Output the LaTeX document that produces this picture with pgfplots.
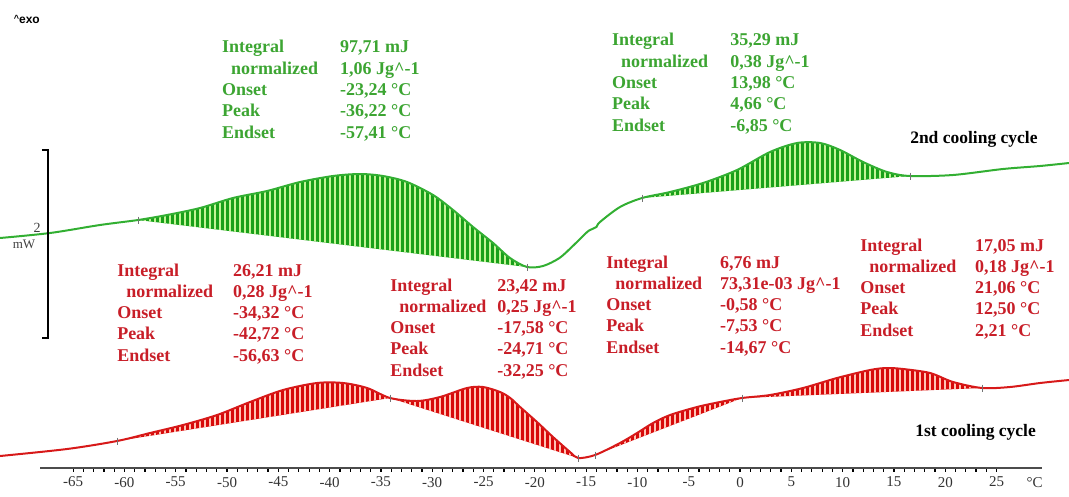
\documentclass[border=0pt]{standalone}
\usepackage{pgfplots}
\pgfplotsset{compat=1.18}
\usepackage{fontspec}
\setmainfont{Liberation Serif}
\newfontfamily\arialfont{Liberation Sans}
\usetikzlibrary{patterns.meta}

\definecolor{gline}{RGB}{50,175,50}
\definecolor{gfill}{RGB}{25,160,25}
\definecolor{gstripe}{RGB}{195,245,150}
\definecolor{gtext}{RGB}{60,165,50}
\definecolor{rline}{RGB}{215,25,25}
\definecolor{rfill}{RGB}{215,10,10}
\definecolor{rstripe}{RGB}{255,195,180}
\definecolor{rtext}{RGB}{200,30,40}

\tikzset{lab/.style={anchor=base west, inner sep=0pt, font=\fontsize{18}{18}\selectfont\bfseries},
  gpat/.style={postaction={pattern={Lines[angle=90,distance=5pt,line width=1.3pt]}, pattern color=gstripe}},
  rpat/.style={postaction={pattern={Lines[angle=90,distance=5pt,line width=1.3pt]}, pattern color=rstripe}}}
\newcommand{\blk}[9]{%
  \node[lab,text=#4] at (axis cs:#1,#3) {Integral};
  \node[lab,text=#4,xshift=9pt,yshift=-21.3pt] at (axis cs:#1,#3) {normalized};
  \node[lab,text=#4,yshift=-42.6pt] at (axis cs:#1,#3) {Onset};
  \node[lab,text=#4,yshift=-63.9pt] at (axis cs:#1,#3) {Peak};
  \node[lab,text=#4,yshift=-85.2pt] at (axis cs:#1,#3) {Endset};
  \node[lab,text=#4] at (axis cs:#2,#3) {#5};
  \node[lab,text=#4,yshift=-21.3pt] at (axis cs:#2,#3) {#6};
  \node[lab,text=#4,yshift=-42.6pt] at (axis cs:#2,#3) {#7};
  \node[lab,text=#4,yshift=-63.9pt] at (axis cs:#2,#3) {#8};
  \node[lab,text=#4,yshift=-85.2pt] at (axis cs:#2,#3) {#9};
}

\begin{document}
\begin{tikzpicture}
\begin{axis}[
  name=ax,
  scale only axis, width=1002pt, height=468pt,
  xmin=-68.23, xmax=29.43, ymin=0, ymax=468,
  clip=false,
  axis y line=none, axis x line=bottom,
  axis line style={-, line width=1.3pt, black!70},
  xtick={-65,-60,...,25},
  minor x tick num=4,
  tick align=outside,
  major tick length=3.5pt, minor tick length=3.5pt,
  every tick/.style={line width=1.2pt, black},
  x tick label style={font=\fontsize{15}{15}\selectfont, text=black!80, yshift=-2pt},
  /pgf/number format/assume math mode=true,
]
% ---- 2nd cooling cycle (green) fills ----
\addplot[smooth, draw=none, fill=gfill, gpat]
  coordinates {(-58.67,248) (-55.85,253) (-52.63,260) (-49.42,270) (-46.10,277) (-42.88,286) (-39.67,292) (-37.04,294) (-34.80,292) (-32.46,286) (-29.92,273) (-27.97,258) (-26.02,241) (-24.07,225) (-22.42,210) (-20.76,201)} -- cycle;
\addplot[smooth, draw=none, fill=gfill, gpat]
  coordinates {(-9.55,270) (-6.82,276) (-3.61,285) (-0.29,298) (2.92,316) (5.56,325) (7.80,325) (9.75,318) (11.99,306) (14.33,296) (16.57,292)} -- cycle;
% ---- green curve ----
\addplot[smooth, line width=2pt, gline] coordinates {
(-72.12,230) (-67.25,235) (-62.38,243) (-58.67,248) (-55.85,253) (-52.63,260) (-49.42,270) (-46.10,277) (-42.88,286) (-39.67,292) (-37.04,294) (-34.80,292) (-32.46,286) (-29.92,273) (-27.97,258) (-26.02,241) (-24.07,225) (-22.42,210) (-20.76,201) (-19.2,202) (-17.6,210) (-16.3,222) (-14.9,236) (-14.4,239) (-14.0,241) (-13.65,246) (-11.70,261) (-9.55,270) (-6.82,276) (-3.61,285) (-0.29,298) (2.92,316) (5.56,325) (7.80,325) (9.75,318) (11.99,306) (14.33,296) (16.57,292) (20.76,293) (25.63,299) (29.24,302) (32.07,305)};
\addplot[only marks, mark=|, mark size=3.5pt, mark options={line width=0.7pt, draw=black!55}]
  coordinates {(-58.67,248) (-20.76,201) (-9.55,270) (16.57,292)};

% ---- 1st cooling cycle (red) fills ----
\addplot[smooth, draw=none, fill=rfill, rpat]
  coordinates {(-60.72,27) (-57.50,35) (-54.29,43) (-50.97,53) (-47.76,66) (-44.54,78) (-41.23,85) (-38.69,85) (-36.35,80) (-34.11,70)} -- cycle;
\addplot[smooth, draw=none, fill=rfill, rpat]
  coordinates {(-34.11,70) (-31.48,67) (-29.24,71) (-26.61,80) (-25.05,81) (-23.39,76) (-22.4,70) (-21.44,61) (-19.79,46) (-18.23,31) (-16.57,16) (-15.79,10)} -- cycle;
\addplot[smooth, draw=none, fill=rfill, rpat]
  coordinates {(-14.13,13) (-11.70,25) (-10.04,35) (-8.48,45) (-6.82,53) (-4.19,61) (-1.95,66) (0.19,70)} -- cycle;
\addplot[smooth, draw=none, fill=rfill, rpat]
  coordinates {(0.19,70) (2.92,73) (6.14,80) (9.45,90) (12.67,98) (14.3,100) (15.89,99) (18.52,95) (20.76,86) (23.59,80)} -- cycle;
% ---- red curve ----
\addplot[smooth, line width=2pt, rline] coordinates {
(-72.12,12) (-65.59,19) (-60.72,27) (-57.50,35) (-54.29,43) (-50.97,53) (-47.76,66) (-44.54,78) (-41.23,85) (-38.69,85) (-36.35,80) (-34.11,70) (-31.48,67) (-29.24,71) (-26.61,80) (-25.05,81) (-23.39,76) (-22.4,70) (-21.44,61) (-19.79,46) (-18.23,31) (-16.57,16) (-15.79,10) (-14.13,13) (-11.70,25) (-10.04,35) (-8.48,45) (-6.82,53) (-4.19,61) (-1.95,66) (0.19,70) (2.92,73) (6.14,80) (9.45,90) (12.67,98) (14.3,100) (15.89,99) (18.52,95) (20.76,86) (23.59,80) (26.32,81) (29.24,85) (32.07,88)};
\addplot[only marks, mark=|, mark size=3.5pt, mark options={line width=0.7pt, draw=black!55}]
  coordinates {(-60.72,27) (-34.11,70) (-15.79,10) (-14.13,13) (0.19,70) (23.59,80)};

% ---- annotation blocks ----
\blk{-50.49}{-38.99}{415}{gtext}{97,71 mJ}{1,06 Jg\textasciicircum-1}{-23,24 °C}{-36,22 °C}{-57,41 °C}
\blk{-12.48}{-0.97}{422}{gtext}{35,29 mJ}{0,38 Jg\textasciicircum-1}{13,98 °C}{4,66 °C}{-6,85 °C}
\blk{-60.72}{-49.42}{192}{rtext}{26,21 mJ}{0,28 Jg\textasciicircum-1}{-34,32 °C}{-42,72 °C}{-56,63 °C}
\blk{-34.11}{-23.68}{177}{rtext}{23,42 mJ}{0,25 Jg\textasciicircum-1}{-17,58 °C}{-24,71 °C}{-32,25 °C}
\blk{-13.06}{-1.95}{200}{rtext}{6,76 mJ}{73,31e-03 Jg\textasciicircum-1}{-0,58 °C}{-7,53 °C}{-14,67 °C}
\blk{11.70}{22.90}{217}{rtext}{17,05 mJ}{0,18 Jg\textasciicircum-1}{21,06 °C}{12,50 °C}{2,21 °C}

\node[anchor=base west, inner sep=0pt, font=\fontsize{17.5}{17.5}\selectfont\bfseries] at (axis cs:16.57,324) {2nd cooling cycle};
\node[anchor=base west, inner sep=0pt, font=\fontsize{17.5}{17.5}\selectfont\bfseries] at (axis cs:17.06,32) {1st cooling cycle};

% unit label
\node[anchor=north, inner sep=0pt, font=\fontsize{15}{15}\selectfont, text=black!80] at (axis cs:28.7,0) [yshift=-9.5pt] {°C};
% scale bar and exo
\draw[line width=1.6pt, black] (axis cs:-68.05,318) -- (axis cs:-67.45,318) -- (axis cs:-67.45,130) -- (axis cs:-68.05,130);
\node[font=\fontsize{14}{14}\selectfont, text=black!75] at (axis cs:-68.52,240) {2};
\node[font=\fontsize{13}{13}\selectfont, text=black!75] at (axis cs:-69.79,224) {mW};
\node[anchor=west, inner sep=0pt, font=\arialfont\bfseries\fontsize{12}{12}\selectfont] at (axis cs:-70.8,449) {\raisebox{2pt}{\fontsize{9}{9}\selectfont\textasciicircum}exo};
\end{axis}
\pgfresetboundingbox
\path ([xshift=-40pt,yshift=-28pt]ax.south west) rectangle ([xshift=27pt]ax.north east);
\end{tikzpicture}
\end{document}
